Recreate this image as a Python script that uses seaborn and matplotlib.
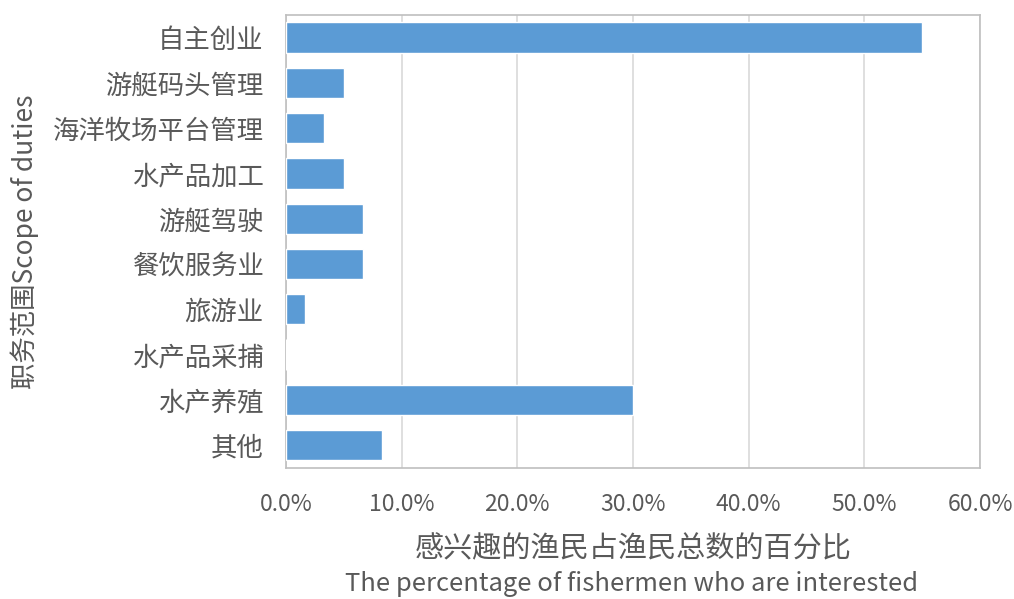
import matplotlib
matplotlib.use("Agg")
import matplotlib.pyplot as plt
from matplotlib.ticker import PercentFormatter, MultipleLocator
import seaborn as sns
import pandas as pd

# Survey: share of fishermen interested in each line of work (%)
categories = ["自主创业", "游艇码头管理", "海洋牧场平台管理", "水产品加工", "游艇驾驶",
              "餐饮服务业", "旅游业", "水产品采捕", "水产养殖", "其他"]
percentages = [55.0, 5.0, 3.33, 5.0, 6.67, 6.67, 1.67, 0.0, 30.0, 8.33]

df = pd.DataFrame({"category": categories, "pct": percentages})

sns.set_theme(style="white")
plt.rcParams["font.family"] = ["Noto Sans CJK SC", "DejaVu Sans"]

text_color = "#595959"
fig, ax = plt.subplots(figsize=(10.14, 5.99), dpi=100)
fig.subplots_adjust(left=0.282, right=0.9665, top=0.975, bottom=0.219)

sns.barplot(data=df, x="pct", y="category", order=categories, orient="h",
            color="#5B9BD5", saturation=1, width=0.67, ax=ax, zorder=3)

ax.set_xlim(0, 60)
ax.xaxis.set_major_locator(MultipleLocator(10))
ax.xaxis.set_major_formatter(PercentFormatter(100, decimals=1))
ax.grid(axis="x", color="#d9d9d9", linewidth=1.2, zorder=0)
ax.set_axisbelow(True)

for side in ["left", "right", "top", "bottom"]:
    ax.spines[side].set_visible(True)
    ax.spines[side].set_color("#bfbfbf")
    ax.spines[side].set_linewidth(1.2)

ax.tick_params(axis="both", length=0, colors=text_color)
ax.tick_params(axis="y", labelsize=19, pad=16)
ax.tick_params(axis="x", labelsize=16.5, pad=18)

ax.set_ylabel("职务范围Scope of duties", fontsize=19, color=text_color)
ax.yaxis.set_label_coords(-0.356, 0.5)
ax.set_xlabel("感兴趣的渔民占渔民总数的百分比", fontsize=21, color=text_color, va="center")
ax.xaxis.set_label_coords(0.5, -0.18)
fig.text(0.623, 0.025, "The percentage of fishermen who are interested",
         ha="center", va="center", fontsize=18.4, color=text_color)

fig.savefig("out.png", dpi=100)
